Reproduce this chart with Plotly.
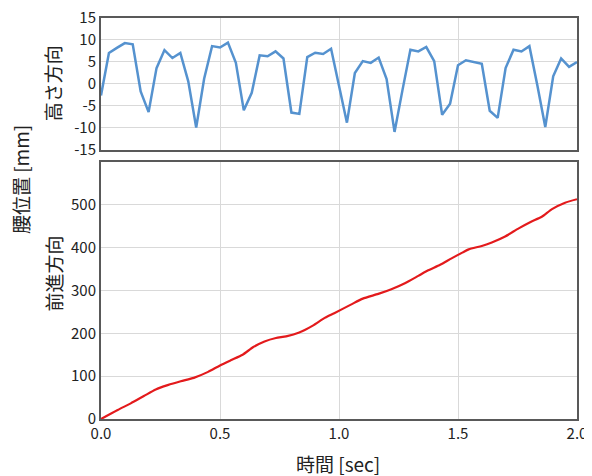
import plotly.graph_objects as go

# Time axis for vertical (height) data: 1/30 s steps
t_height = [i / 30 for i in range(61)]
height = [-2.6, 7.05, 8.2, 9.3, 9.0, -1.7, -6.4, 3.6, 7.7, 5.9,
          7.05, 0.6, -9.9, 1.2, 8.6, 8.3, 9.4, 4.8, -6.0, -2.0,
          6.5, 6.3, 7.4, 5.8, -6.5, -6.8, 6.1, 7.1, 6.8, 8.0,
          -0.4, -8.8, 2.5, 5.2, 4.8, 6.0, 1.1, -10.9, -1.4, 7.8,
          7.4, 8.4, 5.2, -7.0, -4.5, 4.25, 5.4, 5.0, 4.6, -6.1,
          -7.7, 3.6, 7.8, 7.4, 8.6, -0.3, -9.8, 1.75, 5.8, 3.9, 5.0]

# Forward direction (read points)
t_forward = [0.0, 0.07, 0.125, 0.18, 0.23, 0.28, 0.335, 0.39, 0.45, 0.5,
             0.545, 0.595, 0.64, 0.687, 0.735, 0.778, 0.833, 0.89, 0.94, 0.98,
             1.05, 1.10, 1.165, 1.22, 1.277, 1.333, 1.375, 1.425, 1.473, 1.52,
             1.545, 1.60, 1.642, 1.698, 1.755, 1.805, 1.852, 1.895, 1.95, 2.0]
forward = [0, 21, 36.5, 53.5, 69, 79, 88, 96, 110, 125,
           137, 150, 168, 181, 189, 193, 202, 218, 236, 247,
           267, 281, 292, 303, 317, 334, 347, 360, 375, 389,
           396, 404, 412, 426, 445, 460, 472, 490, 505, 513]

x_ticks = [0.0, 0.5, 1.0, 1.5, 2.0]
x_ticklabels = ["0.0", "0.5", "1.0", "1.5", "2.0"]
top_yticks = [15, 10, 5, 0, -5, -10, -15]
top_yticklabels = ["15", "10", "5", "0", "-5", "-10", "-15"]
bot_yticks = [0, 100, 200, 300, 400, 500]

FONT = "Noto Sans CJK JP"
GRID = "#d9d9d9"
FRAME = "#595959"

fig = go.Figure()
fig.add_trace(go.Scatter(x=t_height, y=height, mode="lines",
                         line=dict(color="#5592CF", width=2.5),
                         xaxis="x2", yaxis="y2", showlegend=False))
fig.add_trace(go.Scatter(x=t_forward, y=forward, mode="lines",
                         line=dict(color="#E31A1C", width=2.2, shape="spline", smoothing=0.6),
                         xaxis="x", yaxis="y", showlegend=False))

common_axis = dict(showline=True, linecolor=FRAME, linewidth=2, mirror=True,
                   showgrid=True, gridcolor=GRID, gridwidth=1, zeroline=False,
                   automargin=False, ticklabeloverflow="allow",
                   ticks="", tickfont=dict(family=FONT, size=15, color="#222222"))

fig.update_layout(
    width=584, height=468,
    margin=dict(l=93, r=15, t=10, b=57),
    paper_bgcolor="white", plot_bgcolor="white",
    font=dict(family=FONT, color="#222222"),
    xaxis=dict(**common_axis, range=[0, 2], tickvals=x_ticks, ticktext=x_ticklabels,
               anchor="y", domain=[0, 1]),
    yaxis=dict(**common_axis, range=[0, 600], tickvals=bot_yticks,
               domain=[0, 0.641], anchor="x"),
    xaxis2=dict(**common_axis, range=[0, 2], tickvals=x_ticks, showticklabels=False,
                anchor="y2", domain=[0, 1]),
    yaxis2=dict(**common_axis, range=[-15, 15], tickvals=top_yticks,
                ticktext=top_yticklabels, domain=[0.671, 1], anchor="x2"),
)

ann_font = dict(family=FONT, size=19, color="#222222")
fig.add_annotation(text="時間 [sec]", xref="paper", yref="paper", x=0.497, y=-0.11,
                   xanchor="center", yanchor="middle", showarrow=False, font=ann_font)
fig.add_annotation(text="腰位置 [mm]", xref="paper", yref="paper", x=-0.170, y=0.596,
                   xanchor="center", yanchor="middle", textangle=-90, showarrow=False, font=ann_font)
fig.add_annotation(text="高さ方向", xref="paper", yref="paper", x=-0.10, y=0.838,
                   xanchor="center", yanchor="middle", textangle=-90, showarrow=False, font=ann_font)
fig.add_annotation(text="前進方向", xref="paper", yref="paper", x=-0.10, y=0.364,
                   xanchor="center", yanchor="middle", textangle=-90, showarrow=False, font=ann_font)

fig.write_html("out.html")
